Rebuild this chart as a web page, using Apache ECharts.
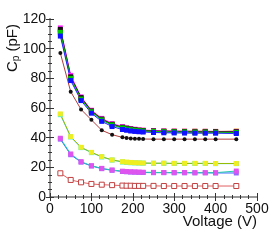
<!DOCTYPE html>
<html><head><meta charset="utf-8">
<script src="https://cdn.jsdelivr.net/npm/echarts@6/dist/echarts.min.js"></script>
<style>html,body{margin:0;padding:0;background:#fff}#c{width:280px;height:241px}</style>
</head><body><div id="c"></div>
<script>
const voltages = [25,50,75,100,125,150,175,185,195,205,215,225,250,275,300,325,350,375,400,450];
const xTicks = [0,100,200,300,400,500];
const yTicks = [0,20,40,60,80,100,120];

const cBlack   = [113,81,67,58,52.5,49,47,46.3,45.8,45.3,45,44.8,44.5,44.3,44.2,44.1,44,44,44,44];
const cRed     = [112,80.5,66.5,57.8,52.2,48.8,46.8,46.1,45.6,45.1,44.8,44.6,44.3,44.1,44,43.9,43.8,43.8,43.8,43.6];
const cGreen   = [111,80,66,57.5,52,48.6,46.6,45.9,45.4,45,44.7,44.5,44.2,44,43.9,43.8,43.7,43.7,43.6,43.5];
const cBlue    = [108.5,78.5,65,56.5,51,47.5,45.5,45,44.5,44.2,44,43.8,43.5,43.3,43.2,43.1,43,43,43,42.8];
const cCyan    = [110,79.5,65.8,57.2,51.8,48.3,46.3,45.7,45.2,44.8,44.5,44.3,44,43.8,43.7,43.6,43.5,43.5,43.5,43.3];
const cMagenta = [114,82,67.5,58.5,53,49.5,47.5,46.7,46.2,45.7,45.3,45.1,44.8,44.6,44.5,44.4,44.3,44.3,44.2,44.3];
const cYellow  = [112.5,81,66.8,58.2,52.7,49.2,47.2,46.5,46,45.5,45.2,45,44.7,44.5,44.4,44.3,44.2,44.2,44.1,44.5];
const cOrange  = [111.5,80.8,66.3,57.7,52.4,49,47,46.2,45.7,45.3,45,44.8,44.5,44.4,44.3,44.3,44.4,44.3,44.2,44.1];
const lowBlack = [97,71,59,52,45,42,40.2,39.8,39.5,39.3,39.2,39.1,39,39,39,39,39,39,39,39];
const midYellow= [56,40.7,33.5,30.1,27.2,25,23.8,23.5,23.3,23.1,23,22.9,22.8,22.8,22.7,22.7,22.7,22.7,22.6,22.6];
const midCyan  = [55.5,40.5,33.3,29.9,27,24.9,23.6,23.3,23.1,23,22.9,22.8,22.7,22.7,22.6,22.6,22.6,22.6,22.5,22.5];
const lowMagenta=[39.6,29,23.8,21.1,19.3,18.2,17.4,17.2,17,16.9,16.8,16.7,16.6,16.5,16.5,16.5,16.4,16.4,16.4,17.5];
const lowPurple= [39,28.5,23.5,20.9,19.1,18,17.2,17,16.8,16.7,16.6,16.5,16.4,16.4,16.3,16.3,16.3,16.3,16.2,16.2];
const botRed   = [16,11.5,9.9,8.8,8.3,8,7.7,7.6,7.6,7.5,7.5,7.5,7.5,7.4,7.4,7.4,7.4,7.4,7.4,7.4];

function pts(arr){ return voltages.map((v,i)=>[v,arr[i]]); }
function ser(arr, line, fill, sym, border){
  return {type:'line', data:pts(arr), symbol:sym||'rect', symbolSize:sym==='circle'?4:5, showSymbol:true,
    lineStyle:{color:line,width:1}, itemStyle:{color:fill, borderColor:border||fill, borderWidth:border?1:0},
    animation:false, z:3};
}
const axisCol = '#999';
const font = 'Liberation Sans, Arial, sans-serif';
const chart = echarts.init(document.getElementById('c'));
const xBase = {type:'value', min:0, max:500, interval:100, splitNumber:5,
  axisLine:{show:true, lineStyle:{color:axisCol,width:2}},
  axisTick:{show:true, inside:true, length:4, lineStyle:{color:'#333'}},
  minorTick:{show:true, splitNumber:5, length:2, lineStyle:{color:'#333'}},
  splitLine:{show:false}};
const yBase = {type:'value', min:0, max:120, interval:20,
  axisLine:{show:true, lineStyle:{color:axisCol,width:2}},
  axisTick:{show:true, inside:true, length:4, lineStyle:{color:'#333'}},
  minorTick:{show:true, splitNumber:4, length:2, lineStyle:{color:'#333'}},
  splitLine:{show:false}};
chart.setOption({
  animation:false,
  grid:{left:50, right:23, top:19, bottom:44},
  xAxis:[
    Object.assign({}, xBase, {position:'bottom',
      axisLabel:{show:true, color:'#111', fontSize:14, fontFamily:font, margin:5,
        formatter:v=>xTicks.includes(v)?String(v):''}}),
    Object.assign({}, xBase, {position:'top', axisLabel:{show:false}})
  ],
  yAxis:[
    Object.assign({}, yBase, {position:'left',
      axisLabel:{show:true, color:'#111', fontSize:14, fontFamily:font, margin:4,
        formatter:v=>yTicks.includes(v)?String(v):''}}),
    Object.assign({}, yBase, {position:'right', axisLabel:{show:false}})
  ],
  graphic:[
    {type:'text', right:23, top:214, style:{text:'Voltage (V)', font:'15px '+font, fill:'#111'}},
    {type:'text', x:13, y:48, rotation:Math.PI/2,
      style:{text:'C{s|p} (pF)', font:'15px '+font, fill:'#111', align:'center', verticalAlign:'middle',
        rich:{s:{fontSize:10, fontFamily:font, verticalAlign:'bottom', padding:[6,0,0,0]}}}}
  ],
  series:[
    ser(botRed,'#e06060','#fff','rect','#c04040'),
    ser(lowPurple,'#3366ff','#9966ff'),
    ser(lowMagenta,'#22ccaa','#dd55ee'),
    ser(midCyan,'#33dddd','#33eeee'),
    ser(midYellow,'#99bb00','#eeee22'),
    ser(lowBlack,'#b03a3a','#111','circle'),
    ser(cOrange,'#cc8822','#cc8822'),
    ser(cYellow,'#dddd00','#eeee00'),
    ser(cCyan,'#00dddd','#00eeee'),
    ser(cMagenta,'#ff00ff','#ff22ff'),
    ser(cRed,'#ff2222','#ff2222'),
    ser(cBlack,'#222','#111'),
    ser(cGreen,'#00cc00','#00cc00'),
    ser(cBlue,'#2222ff','#1111ff')
  ]
});
</script></body></html>
